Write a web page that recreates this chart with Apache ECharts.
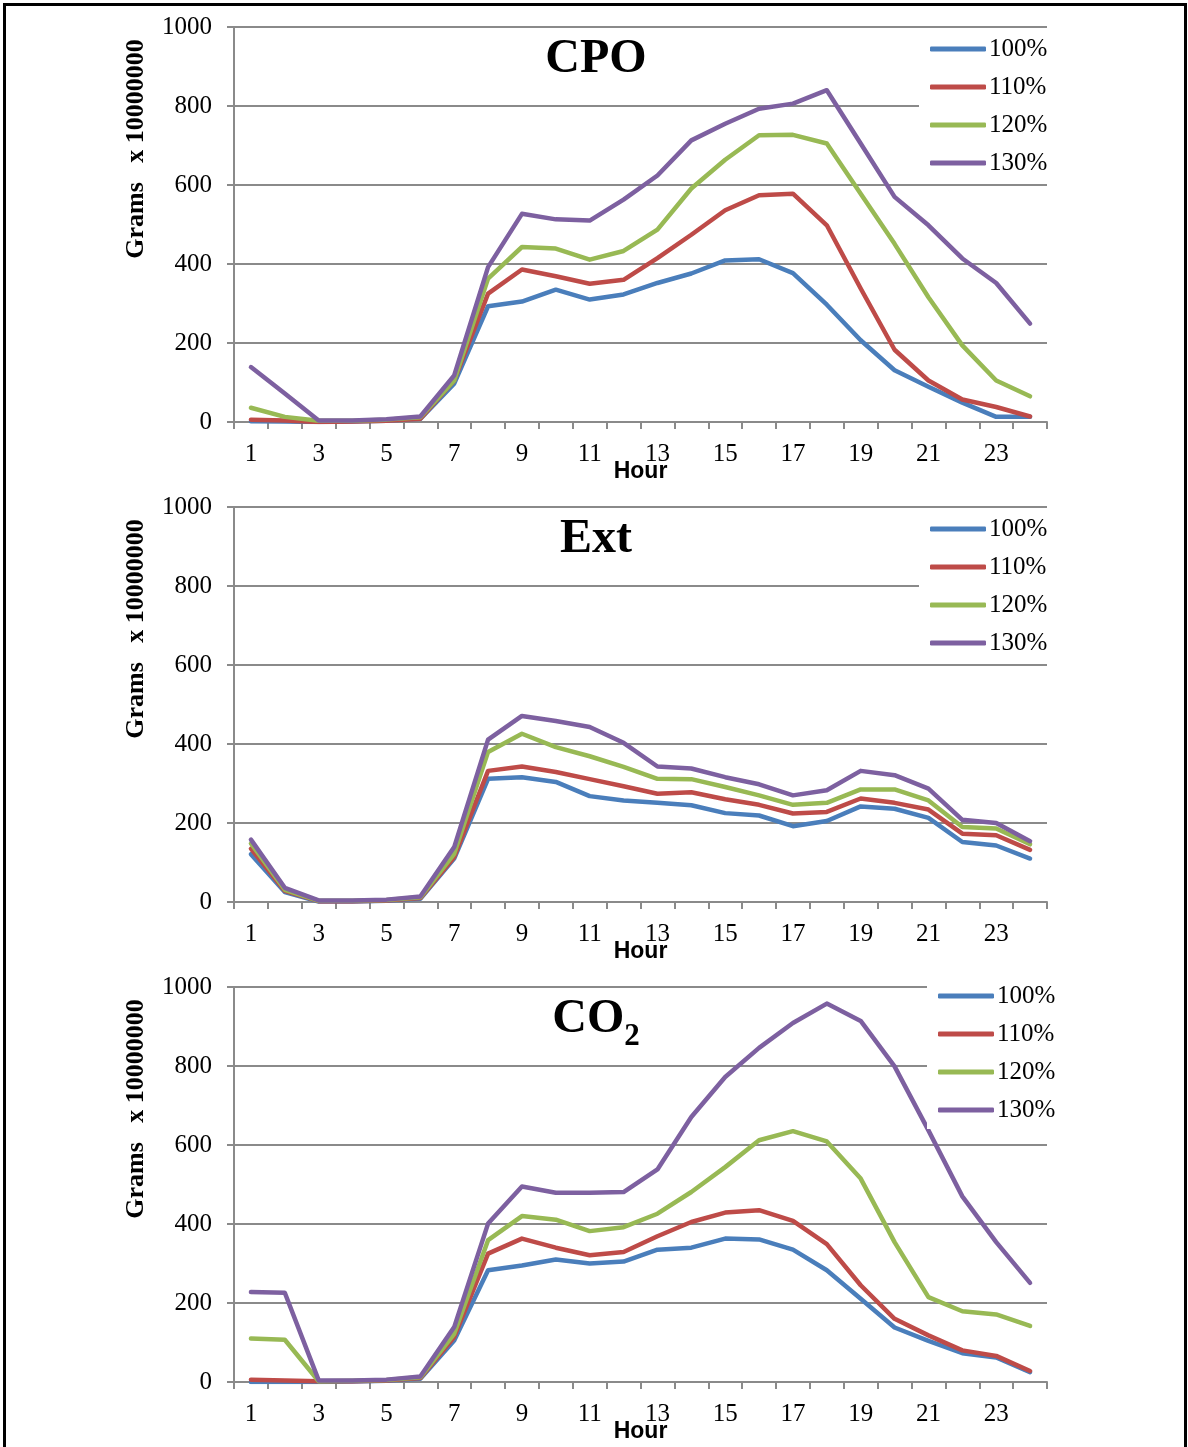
<!DOCTYPE html>
<html>
<head>
<meta charset="utf-8">
<script src="https://cdn.jsdelivr.net/npm/echarts@6/dist/echarts.min.js"></script>
<style>
html,body{margin:0;padding:0;background:#fff;}
#chart{width:1188px;height:1447px;}
</style>
</head>
<body>
<div id="chart"></div>
<script>
// ---- data ----
var hours = ['1','2','3','4','5','6','7','8','9','10','11','12','13','14','15','16','17','18','19','20','21','22','23','24'];
var seriesNames = ['100%','110%','120%','130%'];
var yTicks = [0, 200, 400, 600, 800, 1000];
var yAxisTitle = 'Grams   x 10000000';
var xAxisTitle = 'Hour';

var cpo100 = [2,1,0,1,3,8,97,293,305,335,310,323,352,376,409,412,377,297,207,131,89,49,13,13];
var cpo110 = [6,4,0,1,3,8,105,325,386,369,350,360,415,474,536,574,578,498,338,183,105,57,38,14];
var cpo120 = [36,13,3,3,6,12,105,363,443,439,411,433,487,591,664,726,727,705,578,451,316,194,105,65];
var cpo130 = [139,72,4,4,7,14,118,392,527,513,510,563,624,713,755,793,806,840,705,570,498,414,352,249];

var ext100 = [121,25,1,1,3,8,110,312,316,304,268,257,251,245,225,219,192,205,242,236,213,152,143,110];
var ext110 = [135,28,2,2,4,10,114,332,343,329,311,293,274,278,260,246,224,228,262,251,234,173,169,132];
var ext120 = [148,31,3,3,5,12,122,380,426,392,369,342,312,311,291,270,246,251,285,285,257,190,186,146];
var ext130 = [158,36,4,4,6,14,139,411,471,458,443,403,343,338,316,298,270,283,332,321,287,208,200,154];

var co2_100 = [0,0,0,1,3,8,105,283,295,310,300,305,335,340,363,361,335,283,211,138,104,73,62,25];
var co2_110 = [6,4,2,2,4,10,114,325,363,340,321,329,369,405,429,435,408,349,245,160,118,80,66,28];
var co2_120 = [110,107,2,3,5,12,122,359,420,411,382,392,426,481,544,612,635,609,515,354,215,179,171,142];
var co2_130 = [228,226,4,4,6,14,139,401,495,479,479,481,538,671,772,846,909,958,914,799,637,470,354,251];

var panels = [
  {title: '{a|CPO}', data: [cpo100, cpo110, cpo120, cpo130]},
  {title: '{a|Ext}', data: [ext100, ext110, ext120, ext130]},
  {title: '{a|CO}{b|2}', data: [co2_100, co2_110, co2_120, co2_130]}
];

// ---- styling ----
var colors = ['#4A7EBB', '#BE4B48', '#98B954', '#7D60A0'];
var serif = '"Liberation Serif", "Times New Roman", serif';
var sans = '"Liberation Sans", Arial, sans-serif';
var gridTops = [27, 507, 987];
var gridH = 395;
var axisGrey = '#8a8a8a';
var legendPos = [{left: 919, top: 30}, {left: 919, top: 510}, {left: 927, top: 977}];

var chart = echarts.init(document.getElementById('chart'), null, {renderer: 'canvas'});

var grids = [], xAxes = [], yAxes = [], series = [], legends = [], titles = [], graphics = [];
panels.forEach(function (p, i) {
  grids.push({left: 234, right: 141, top: gridTops[i], height: gridH, containLabel: false});
  xAxes.push({
    type: 'category', gridIndex: i, data: hours, boundaryGap: true,
    name: xAxisTitle, nameLocation: 'middle', nameGap: 38, nameMoveOverlap: false,
    nameTextStyle: {fontFamily: sans, fontWeight: 'bold', fontSize: 23, color: '#000'},
    axisLine: {show: true, lineStyle: {color: axisGrey, width: 2}},
    axisTick: {show: true, interval: 0, length: 7, lineStyle: {color: axisGrey, width: 2}},
    axisLabel: {interval: 1, margin: 20, fontFamily: serif, fontSize: 25, color: '#000'},
    splitLine: {show: false}
  });
  yAxes.push({
    type: 'value', gridIndex: i, min: yTicks[0], max: yTicks[yTicks.length - 1], interval: 200,
    axisLine: {show: true, lineStyle: {color: axisGrey, width: 2}},
    axisTick: {show: true, length: 7, lineStyle: {color: axisGrey, width: 2}},
    axisLabel: {margin: 22, fontFamily: serif, fontSize: 25, color: '#000',
      formatter: function (v) { return String(v); }},
    splitLine: {show: true, lineStyle: {color: axisGrey, width: 2}}
  });
  p.data.forEach(function (arr, k) {
    series.push({
      type: 'line', name: seriesNames[k], xAxisIndex: i, yAxisIndex: i, data: arr,
      symbol: 'none', smooth: false, animation: false,
      lineStyle: {color: colors[k], width: 4.5, cap: 'round', join: 'round'},
      itemStyle: {color: colors[k]}
    });
  });
  legends.push({
    orient: 'vertical', left: legendPos[i].left, top: legendPos[i].top,
    data: seriesNames, backgroundColor: '#fff', padding: [6, 4, 6, 11],
    itemWidth: 56, itemHeight: 5, itemGap: 12, icon: 'roundRect',
    textStyle: {fontFamily: serif, fontSize: 25, color: '#000', lineHeight: 26, padding: [0, 0, 0, -2]},
    selectedMode: false
  });
  titles.push({
    text: p.title, left: 596, textAlign: 'center', top: gridTops[i] + 7, padding: 0,
    textStyle: {
      rich: {
        a: {fontFamily: serif, fontWeight: 'bold', fontSize: 48, color: '#000', lineHeight: 52},
        b: {fontFamily: serif, fontWeight: 'bold', fontSize: 31, color: '#000', lineHeight: 52, verticalAlign: 'bottom', padding: [0, 0, -6, 0]}
      }
    }
  });
  graphics.push({
    type: 'text', silent: true, x: 136, y: gridTops[i] + 122, rotation: Math.PI / 2,
    style: {text: yAxisTitle, fontFamily: serif, fontWeight: 'bold', fontSize: 26, fill: '#000',
      align: 'center', verticalAlign: 'middle'}
  });
});

graphics.push({
  type: 'rect', silent: true, z: 100,
  shape: {x: 4.5, y: 4.5, width: 1181, height: 1500},
  style: {fill: 'none', stroke: '#000', lineWidth: 3}
});

chart.setOption({
  animation: false,
  backgroundColor: '#fff',
  title: titles,
  grid: grids,
  xAxis: xAxes,
  yAxis: yAxes,
  legend: legends,
  series: series,
  graphic: graphics
});
</script>
</body>
</html>
